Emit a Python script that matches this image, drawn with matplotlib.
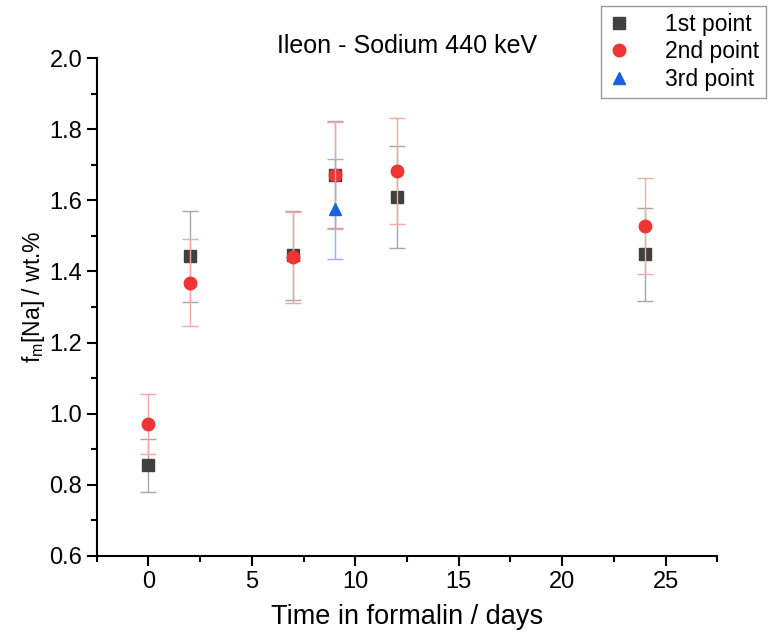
import numpy as np
import matplotlib.pyplot as plt
from matplotlib.ticker import MultipleLocator

plt.rcParams['font.family'] = ['Liberation Sans', 'DejaVu Sans']

# days in formalin
days_1st = [0, 2, 7, 9, 12, 24]
val_1st = [0.855, 1.443, 1.445, 1.672, 1.61, 1.448]
err_1st = [0.075, 0.128, 0.125, 0.15, 0.143, 0.13]

days_2nd = [0, 2, 7, 9, 12, 24]
val_2nd = [0.971, 1.368, 1.44, 1.67, 1.682, 1.527]
err_2nd = [0.085, 0.122, 0.128, 0.15, 0.149, 0.135]

days_3rd = [9]
val_3rd = [1.575]
err_3rd = [0.14]

fig = plt.figure(figsize=(7.68, 6.39), dpi=100)
ax = fig.add_axes([0.126, 0.130, 0.808, 0.779])

ax.errorbar(days_1st, val_1st, yerr=err_1st, fmt='s', color='#404040', ms=8,
            ecolor='#a8a8a8', elinewidth=1, capsize=6, capthick=1, label='1st point', zorder=3)
ax.errorbar(days_2nd, val_2nd, yerr=err_2nd, fmt='o', color='#f03434', ms=9,
            ecolor='#f5a8a8', elinewidth=1, capsize=6, capthick=1, label='2nd point', zorder=4)
ax.errorbar(days_3rd, val_3rd, yerr=err_3rd, fmt='^', color='#1a62db', ms=9,
            ecolor='#95b4ee', elinewidth=1, capsize=6, capthick=1, label='3rd point', zorder=5)

ax.set_xlim(-2.5, 27.5)
ax.set_ylim(0.6, 2.0)
ax.xaxis.set_major_locator(MultipleLocator(5))
ax.xaxis.set_minor_locator(MultipleLocator(2.5))
ax.yaxis.set_major_locator(MultipleLocator(0.2))
ax.yaxis.set_minor_locator(MultipleLocator(0.1))
ax.yaxis.set_major_formatter(plt.FormatStrFormatter('%.1f'))

for s in ['top', 'right']:
    ax.spines[s].set_visible(False)
for s in ['left', 'bottom']:
    ax.spines[s].set_linewidth(1.5)
ax.tick_params(which='major', direction='out', length=7, width=1.5, labelsize=17)
ax.tick_params(which='minor', direction='out', length=4, width=1.5)

ax.set_xlabel('Time in formalin / days', fontsize=19.5, labelpad=8)
ax.set_ylabel(r'f$_\mathregular{m}$[Na] / wt.%', fontsize=16.5)
ax.yaxis.set_label_coords(-0.08, 0.52)
ax.set_title('Ileon - Sodium 440 keV', fontsize=18, pad=4)

handles, labels = ax.get_legend_handles_labels()
handles = [h[0] for h in handles]
leg = fig.legend(handles, labels, loc='upper right', bbox_to_anchor=(0.997, 0.991),
                 borderaxespad=0, fontsize=16.5, frameon=True, fancybox=False,
                 edgecolor='#808080', handlelength=1.0, handletextpad=1.5,
                 borderpad=0.3, labelspacing=0.2)
leg.get_frame().set_linewidth(1)

plt.savefig('out.png', dpi=100)
